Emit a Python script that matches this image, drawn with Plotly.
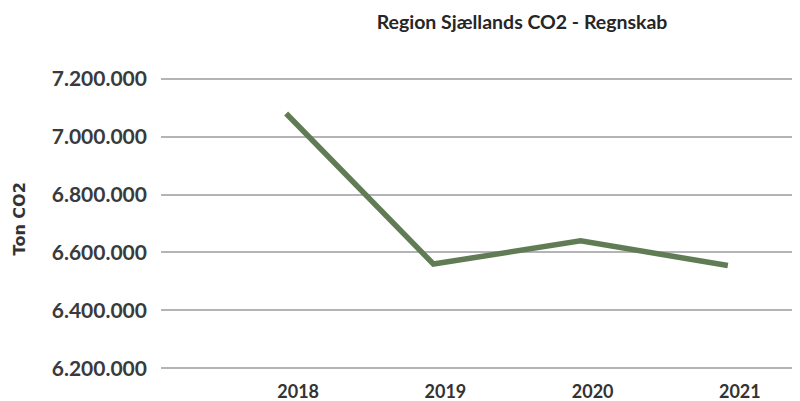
import plotly.graph_objects as go

years = ["2018", "2019", "2020", "2021"]
ton_co2 = [7080000, 6560000, 6640000, 6555000]
y_ticks = [6200000, 6400000, 6600000, 6800000, 7000000, 7200000]
y_tick_labels = ["6.200.000", "6.400.000", "6.600.000", "6.800.000", "7.000.000", "7.200.000"]
y_title = "Ton CO2"
chart_title = "Region Sjællands CO2 - Regnskab"

# page body has an 8px margin; size the figure so it fills the 800x401 window
W, H = 792, 393
fig = go.Figure()
fig.add_trace(go.Scatter(
    x=years, y=ton_co2, mode="lines",
    line=dict(color="#617c55", width=5.5),
    hoverinfo="skip", showlegend=False,
))

fig.update_layout(
    width=W, height=H,
    margin=dict(l=153, r=0, t=65, b=27, autoexpand=False),
    paper_bgcolor="white", plot_bgcolor="white",
    title=dict(
        text="<b>" + chart_title + "</b>",
        font=dict(family="Lato", size=19.5, color="#262626"),
        x=0.565, xref="paper", xanchor="center",
        y=1 - 14 / H, yref="container", yanchor="middle",
    ),
    xaxis=dict(
        type="category", range=[-0.85, 3.49],
        showgrid=False, zeroline=False, showline=False,
        ticks="", ticklabelshift=12, ticklabelstandoff=5,
        tickfont=dict(family="Lato", size=18, color="#333333", weight="bold"),
        automargin=False,
    ),
    yaxis=dict(
        range=[6180000, 7220000],
        tickvals=y_ticks, ticktext=y_tick_labels,
        showgrid=True, gridcolor="#b4b4b8", gridwidth=2,
        zeroline=False, showline=False,
        ticks="", ticklabelstandoff=13,
        tickfont=dict(family="Lato", size=21, color="#3a3a3a", weight="bold"),
        automargin=False,
    ),
    annotations=[dict(
        text="<b>" + y_title + "</b>", textangle=-90,
        xref="paper", yref="paper", x=-0.22, y=0.515,
        xanchor="center", yanchor="middle", showarrow=False,
        font=dict(family="DejaVu Sans", size=16, color="#333333"),
    )],
)

fig.write_html("out.html")
